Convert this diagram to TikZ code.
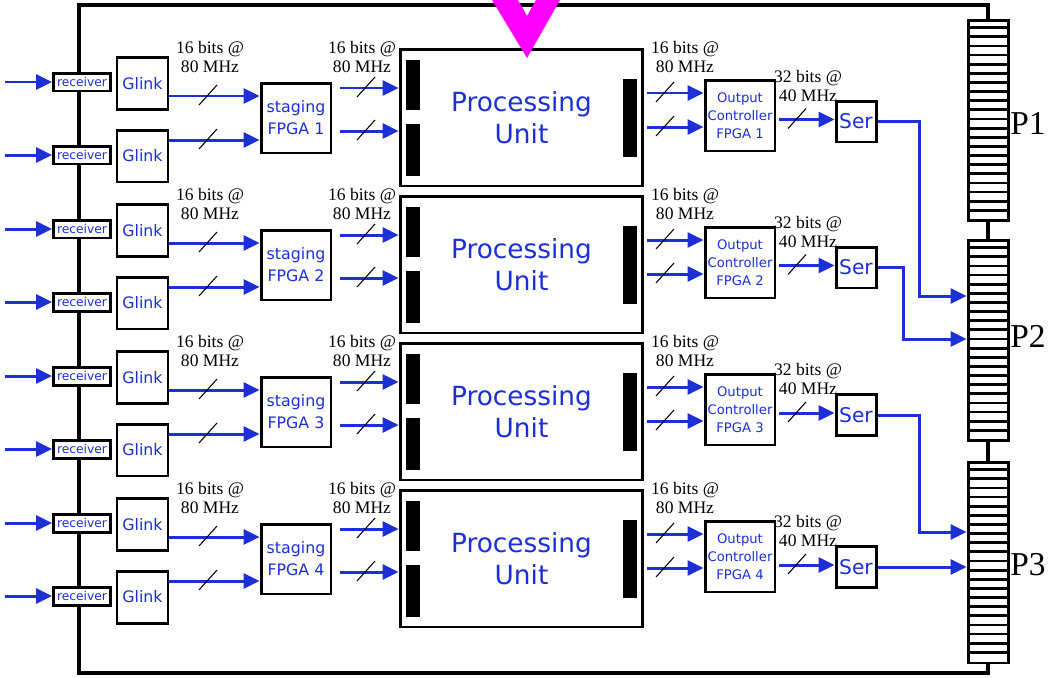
\documentclass[tikz,border=0pt]{standalone}
\usepackage{fontspec}
\setmainfont{Liberation Serif}
\newfontfamily\blockfont{DejaVu Sans}
\usepackage{tikz}
\usetikzlibrary{arrows.meta}
\definecolor{sigblue}{RGB}{28,48,214}
\definecolor{hotpink}{RGB}{255,0,255}

\begin{document}
\begin{tikzpicture}[
  x=0.02cm, y=-0.02cm,
  board/.style={line width=2.6pt},
  blk/.style={rectangle, draw=black, line width=1.7pt, fill=white, inner sep=0pt, align=center, text=sigblue},
  rcvbox/.style={blk, minimum width=1.14cm, minimum height=0.36cm, font=\blockfont\fontsize{7}{8}\selectfont},
  glkbox/.style={blk, minimum width=1.02cm, minimum height=1.04cm, font=\blockfont\fontsize{9}{11}\selectfont},
  stgbox/.style={blk, minimum width=1.4cm, minimum height=1.4cm, font=\blockfont\fontsize{9}{12.5}\selectfont},
  pubox/.style={blk, minimum width=4.86cm, minimum height=2.74cm, font=\blockfont\fontsize{15}{18}\selectfont},
  ocbox/.style={blk, minimum width=1.4cm, minimum height=1.42cm, font=\blockfont\fontsize{7.5}{10.2}\selectfont},
  serbox/.style={blk, minimum width=0.8cm, minimum height=0.82cm, font=\blockfont\fontsize{11.5}{13}\selectfont},
  conn/.style={rectangle, draw=black, line width=1.7pt, fill=white, minimum width=0.8cm, minimum height=4.02cm, inner sep=0pt},
  sig/.style={draw=sigblue, line width=1.7pt, -{Triangle[length=0.32cm,width=0.3cm]}},
  rate/.style={align=center, font=\fontsize{10}{10.8}\selectfont, inner sep=0pt},
  busmark/.style={line width=0.6pt},
  plabel/.style={font=\fontsize{19}{20}\selectfont, inner sep=0pt},
]
\useasboundingbox (0,0) rectangle (1048,677);

% Backplane connectors
\node[conn] (p1) at (988,120.5) {};
\node[conn] (p2) at (988,340.5) {};
\node[conn] (p3) at (988,562.5) {};
\foreach \p in {p1,p2,p3}
  \foreach \k in {1,...,21}
    \draw[line width=1.6pt] ([yshift={-\k*0.18273cm}]\p.north west) -- ([yshift={-\k*0.18273cm}]\p.north east);
\node[plabel] (lp1) at (1028,123) {P1};
\node[plabel] (lp2) at (1028,336) {P2};
\node[plabel] (lp3) at (1028,565) {P3};

% Board outline
\draw[board] (p1.north) -- (988,5) -| (79,673) -| (p3.south);
\draw[board] (p1.south) -- (p2.north);
\draw[board] (p2.south) -- (p3.north);

% Four channels
\foreach \g/\sy in {0/121.5,1/267.5,2/415,3/567} {
  \pgfmathsetmacro\dy{147*\g}
  \pgfmathtruncatemacro\n{\g+1}
  % input side
  \node[rcvbox] (rcva\g) at (82,82+\dy) {receiver};
  \node[rcvbox] (rcvb\g) at (82,155+\dy) {receiver};
  \coordinate (ina\g) at (5,82+\dy);
  \coordinate (inb\g) at (5,155+\dy);
  \draw[sig] (ina\g) -- (rcva\g.west);
  \draw[sig] (inb\g) -- (rcvb\g.west);
  \node[glkbox] (glka\g) at (142.5,83.5+\dy) {Glink};
  \node[glkbox] (glkb\g) at (142.5,156+\dy) {Glink};
  \node[stgbox] (stg\g) at (296,118+\dy) {staging\\FPGA \n};
  \draw[sig] (glka\g.east |- 0,{96+\dy}) -- (stg\g.west |- 0,{96+\dy});
  \draw[sig] (glkb\g.east |- 0,{140+\dy}) -- (stg\g.west |- 0,{140+\dy});
  \draw[busmark] (208,{96+\dy}) +(-9,9) -- +(9,-11);
  \draw[busmark] (208,{140+\dy}) +(-9,9) -- +(9,-11);
  \node[rate] (ra\g) at (210,57+\dy) {16 bits @\\80 MHz};
  % processing unit
  \node[pubox] (pu\g) at (521.5,117.5+\dy) {Processing\\Unit};
  \fill (406,60+\dy) rectangle (420,110+\dy);
  \fill (406,124+\dy) rectangle (420,176+\dy);
  \fill (623,79+\dy) rectangle (637,157+\dy);
  \coordinate (sa\g) at (340,88+\dy);
  \coordinate (sb\g) at (340,131+\dy);
  \draw[sig] (sa\g) -- (sa\g -| pu\g.west);
  \draw[sig] (sb\g) -- (sb\g -| pu\g.west);
  \draw[busmark] (366,{88+\dy}) +(-9,9) -- +(9,-11);
  \draw[busmark] (366,{131+\dy}) +(-9,9) -- +(9,-11);
  \node[rate] (rb\g) at (362,57+\dy) {16 bits @\\80 MHz};
  % output side
  \node[ocbox] (oc\g) at (740,115.5+\dy) {Output\\Controller\\FPGA \n};
  \coordinate (oa\g) at (647,93+\dy);
  \coordinate (ob\g) at (647,127+\dy);
  \draw[sig] (oa\g) -- (oa\g -| oc\g.west);
  \draw[sig] (ob\g) -- (ob\g -| oc\g.west);
  \draw[busmark] (665,{93+\dy}) +(-9,9) -- +(9,-11);
  \draw[busmark] (665,{127+\dy}) +(-9,9) -- +(9,-11);
  \node[rate] (rc\g) at (685,57+\dy) {16 bits @\\80 MHz};
  \node[serbox] (ser\g) at (856,\sy) {Ser};
  \coordinate (os\g) at (779,\sy-2);
  \draw[sig] (os\g) -- (os\g -| ser\g.west);
  \draw[busmark] (797,{\sy-2}) +(-9,9) -- +(9,-11);
  \node[rate] (rd\g) at (808,\sy-36) {32 bits @\\40 MHz};
}

% Serial links to the backplane
\draw[sig] (ser0.east) -| (919,296) -- (p2.west |- 0,296);
\draw[sig] (ser1.east) -| (903,339) -- (p2.west |- 0,339);
\draw[sig] (ser2.east) -| (919,532) -- (p3.west |- 0,532);
\draw[sig] (ser3.east) -- (ser3.east -| p3.west);

% Incoming arrow from above
\fill[hotpink] (492,0) -- (518,0) -- (527,16) -- (536,0) -- (560,0) -- (527,58) -- cycle;

\end{tikzpicture}
\end{document}
